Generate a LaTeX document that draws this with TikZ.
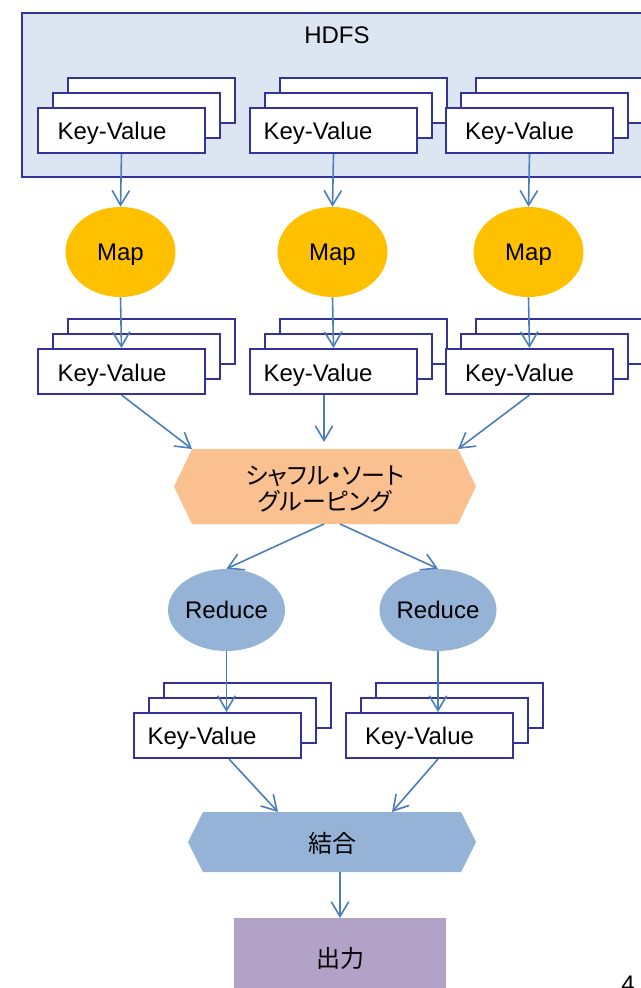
\documentclass[tikz,border=0pt]{standalone}
\usepackage{fontspec}
\setmainfont{Liberation Sans}
\newfontfamily\jpfont[RawFeature=+palt]{Noto Sans CJK JP}
\usetikzlibrary{arrows.meta,shapes.geometric}
\definecolor{navy}{RGB}{51,51,153}
\definecolor{hdfsfill}{RGB}{220,230,242}
\definecolor{arrowblue}{RGB}{74,126,187}
\definecolor{mapgold}{RGB}{255,192,0}
\definecolor{peach}{RGB}{250,192,144}
\definecolor{steel}{RGB}{149,179,215}
\definecolor{lilac}{RGB}{179,162,199}
\tikzset{
  kvbox/.style={draw=navy, fill=white, line width=1.5pt, anchor=north west,
    minimum width=125.25pt, minimum height=33.75pt, inner sep=0pt},
  kvtext/.style={anchor=base, font=\fontsize{18}{20}\selectfont, inner sep=0pt},
  mapnode/.style={ellipse, fill=mapgold, minimum width=82.5pt, minimum height=67.5pt,
    inner sep=0pt, text depth=0pt, font=\fontsize{18}{20}\selectfont},
  rednode/.style={ellipse, fill=steel, minimum width=79.5pt, minimum height=61.5pt,
    inner sep=0pt, font=\fontsize{18}{20}\selectfont},
  jptext/.style={font=\jpfont\fontsize{18}{20}\selectfont, align=center, inner sep=0pt},
  flow/.style={draw=arrowblue, line width=1.2pt, -{Straight Barb[length=11pt,width=13pt]}}
}
\newcommand\kvstack[3]{%
  \node[kvbox] (#1c) at (#2+30,#3-30) {};
  \node[kvbox] (#1b) at (#2+15,#3-15) {};
  \node[kvbox] (#1a) at (#2,#3) {};
}
\begin{document}
\begin{tikzpicture}[x=0.75pt,y=-0.75pt]
\useasboundingbox (0,0) rectangle (641,988);
\clip (0,0) rectangle (641,988);
% HDFS
\draw[fill=hdfsfill, draw=navy, line width=1.5pt] (22,13) rectangle (660,177);
\node[kvtext] (hdfs) at (337,44) {HDFS};
% top stacks
\kvstack{ta}{37}{107}
\kvstack{tb}{249}{107}
\kvstack{tc}{445}{107}
\node[kvtext] (tat) at (112,140) {Key-Value};
\node[kvtext] (tbt) at (318,140) {Key-Value};
\node[kvtext] (tct) at (519.5,140) {Key-Value};
% maps
\node[mapnode] (m1) at (120.5,252) {Map};
\node[mapnode] (m2) at (332.5,252) {Map};
\node[mapnode] (m3) at (528.5,252) {Map};
% second stacks
\kvstack{sa}{37}{348}
\kvstack{sb}{249}{348}
\kvstack{sc}{445}{348}
\node[kvtext] (sat) at (112,381) {Key-Value};
\node[kvtext] (sbt) at (318,381) {Key-Value};
\node[kvtext] (sct) at (519.5,381) {Key-Value};
% shuffle hexagon
\coordinate (shW) at (174,486.5);
\coordinate (shNW) at (192,449);
\coordinate (shNE) at (458,449);
\coordinate (shE) at (476,486.5);
\coordinate (shSE) at (458,524);
\coordinate (shSW) at (192,524);
\fill[peach] (shW) -- (shNW) -- (shNE) -- (shE) -- (shSE) -- (shSW) -- cycle;
\node[jptext] (shuf) at (325,489) {シャフル・ソート\\グルーピング};
% reduce
\node[rednode] (r1) at (226.5,610) {Reduce};
\node[rednode] (r2) at (438,610) {Reduce};
% bottom stacks
\kvstack{ba}{133}{712}
\kvstack{bb}{345}{712}
\node[kvtext] (bat) at (202,744) {Key-Value};
\node[kvtext] (bbt) at (419.5,744) {Key-Value};
% combine hexagon
\coordinate (cbW) at (188,842);
\coordinate (cbNW) at (203,812);
\coordinate (cbNE) at (461,812);
\coordinate (cbE) at (476,842);
\coordinate (cbSE) at (461,872);
\coordinate (cbSW) at (203,872);
\fill[steel] (cbW) -- (cbNW) -- (cbNE) -- (cbE) -- (cbSE) -- (cbSW) -- cycle;
\node[jptext] (comb) at (332,843) {結合};
% output
\fill[lilac] (234,918) rectangle (446,1000);
\node[jptext] (out) at (340,958) {出力};
\node[kvtext, anchor=north west] (pg) at (621,976) {4};
% connectors
\draw[flow] (taa.south) -- (m1.north);
\draw[flow] (tba.south) -- (m2.north);
\draw[flow] (tca.south) -- (m3.north);
\draw[flow] (m1.south) -- (saa.north);
\draw[flow] (m2.south) -- (sba.north);
\draw[flow] (m3.south) -- (sca.north);
\draw[flow] (saa.south) -- (shNW);
\draw[flow] (sba.south -| 324,0) -- (324,442);
\draw[flow] (sca.south) -- (shNE);
\draw[flow] (324,524) -- (r1.north);
\draw[flow] (340,524) -- (r2.north);
\draw[flow] (r1.south) -- (r1.south |- baa.north);
\draw[flow] (r2.south) -- (r2.south |- bba.north);
\draw[flow] (baa.south -| 229,0) -- (278,812);
\draw[flow] (bba.south -| 438,0) -- (392,812);
\draw[flow] (cbSW -| 340,0) -- (340,918);
\end{tikzpicture}
\end{document}
